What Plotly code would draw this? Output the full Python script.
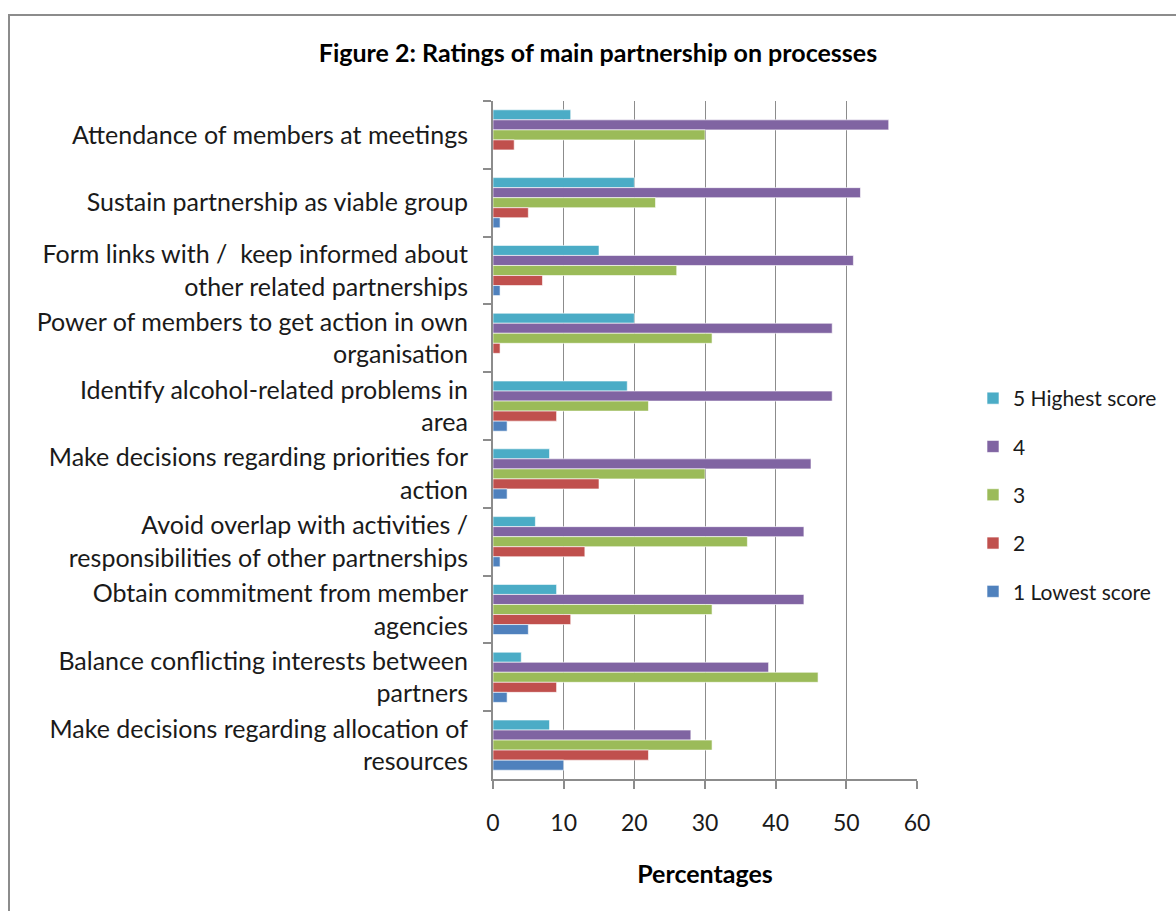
import plotly.graph_objects as go

categories = [
    "Attendance of members at meetings",
    "Sustain partnership as viable group",
    "Form links with /  keep informed about<br>other related partnerships",
    "Power of members to get action in own<br>organisation",
    "Identify alcohol-related problems in<br>area",
    "Make decisions regarding priorities for<br>action",
    "Avoid overlap with activities /<br>responsibilities of other partnerships",
    "Obtain commitment from member<br>agencies",
    "Balance conflicting interests between<br>partners",
    "Make decisions regarding allocation of<br>resources",
]
score5 = [11, 20, 15, 20, 19, 8, 6, 9, 4, 8]
score4 = [56, 52, 51, 48, 48, 45, 44, 44, 39, 28]
score3 = [30, 23, 26, 31, 22, 30, 36, 31, 46, 31]
score2 = [3, 5, 7, 1, 9, 15, 13, 11, 9, 22]
score1 = [0, 1, 1, 0, 2, 2, 1, 5, 2, 10]
x_ticks = [0, 10, 20, 30, 40, 50, 60]

series = [
    ("5 Highest score", score5, "#4BACC6"),
    ("4", score4, "#8064A2"),
    ("3", score3, "#9BBB59"),
    ("2", score2, "#C0504D"),
    ("1 Lowest score", score1, "#4F81BD"),
]

FONT = "Lato"
fig = go.Figure()
for i, (name, vals, col) in enumerate(series):
    fig.add_trace(go.Bar(
        y=categories, x=vals, name=name, orientation="h", legendgroup=f"g{i}",
        marker=dict(color=col, line=dict(color="rgba(255,255,255,0.6)", width=1)),
    ))

L, R, T, B = 493, 259, 101, 132
W, H = 1176, 911
pw, ph = W - L - R, H - T - B

def px(x):
    return (x - L) / pw

def py(y):
    return (H - B - y) / ph

fig.update_layout(
    width=W, height=H,
    margin=dict(l=L, r=R, t=T, b=B, pad=0, autoexpand=False),
    paper_bgcolor="white", plot_bgcolor="white",
    barmode="group", bargap=0.26, bargroupgap=0,
    font=dict(family=FONT, size=21, color="#1a1a1a"),
    title=dict(text="<b>Figure 2: Ratings of main partnership on processes</b>",
               xref="container", x=598 / W, xanchor="center",
               yref="container", y=1 - 53 / H, yanchor="middle",
               font=dict(family=FONT, size=25, color="#000")),
    legend=dict(xref="container", yref="container",
                x=973 / W, y=1 - 378 / H, xanchor="left", yanchor="top",
                traceorder="grouped", font=dict(family=FONT, size=21),
                itemwidth=30, tracegroupgap=18, bgcolor="rgba(0,0,0,0)"),
    showlegend=True,
    xaxis=dict(range=[0, 60], tickvals=x_ticks, showgrid=True, gridcolor="#8c8c8c",
               gridwidth=1, showline=True, linecolor="#8c8c8c", linewidth=2,
               ticks="outside", ticklen=8, tickcolor="#8c8c8c", tickwidth=2,
               zeroline=False, automargin=False, ticklabelstandoff=14,
               tickfont=dict(size=23, family=FONT),
               title=dict(text="<b>Percentages</b>", standoff=31,
                          font=dict(size=25, family=FONT, color="#000"))),
    yaxis=dict(autorange="reversed", showline=True, linecolor="#8c8c8c", linewidth=2,
               ticks="outside", ticklen=8, tickcolor="#8c8c8c", tickwidth=2,
               tickson="boundaries", showgrid=False, ticklabelstandoff=18,
               automargin=False, tickfont=dict(size=25, family=FONT)),
    shapes=[dict(type="rect", xref="paper", yref="paper",
                 x0=px(9), x1=px(1185), y0=py(15), y1=py(925),
                 line=dict(color="#8c8c8c", width=2), layer="below")],
)

fig.write_html("out.html")
